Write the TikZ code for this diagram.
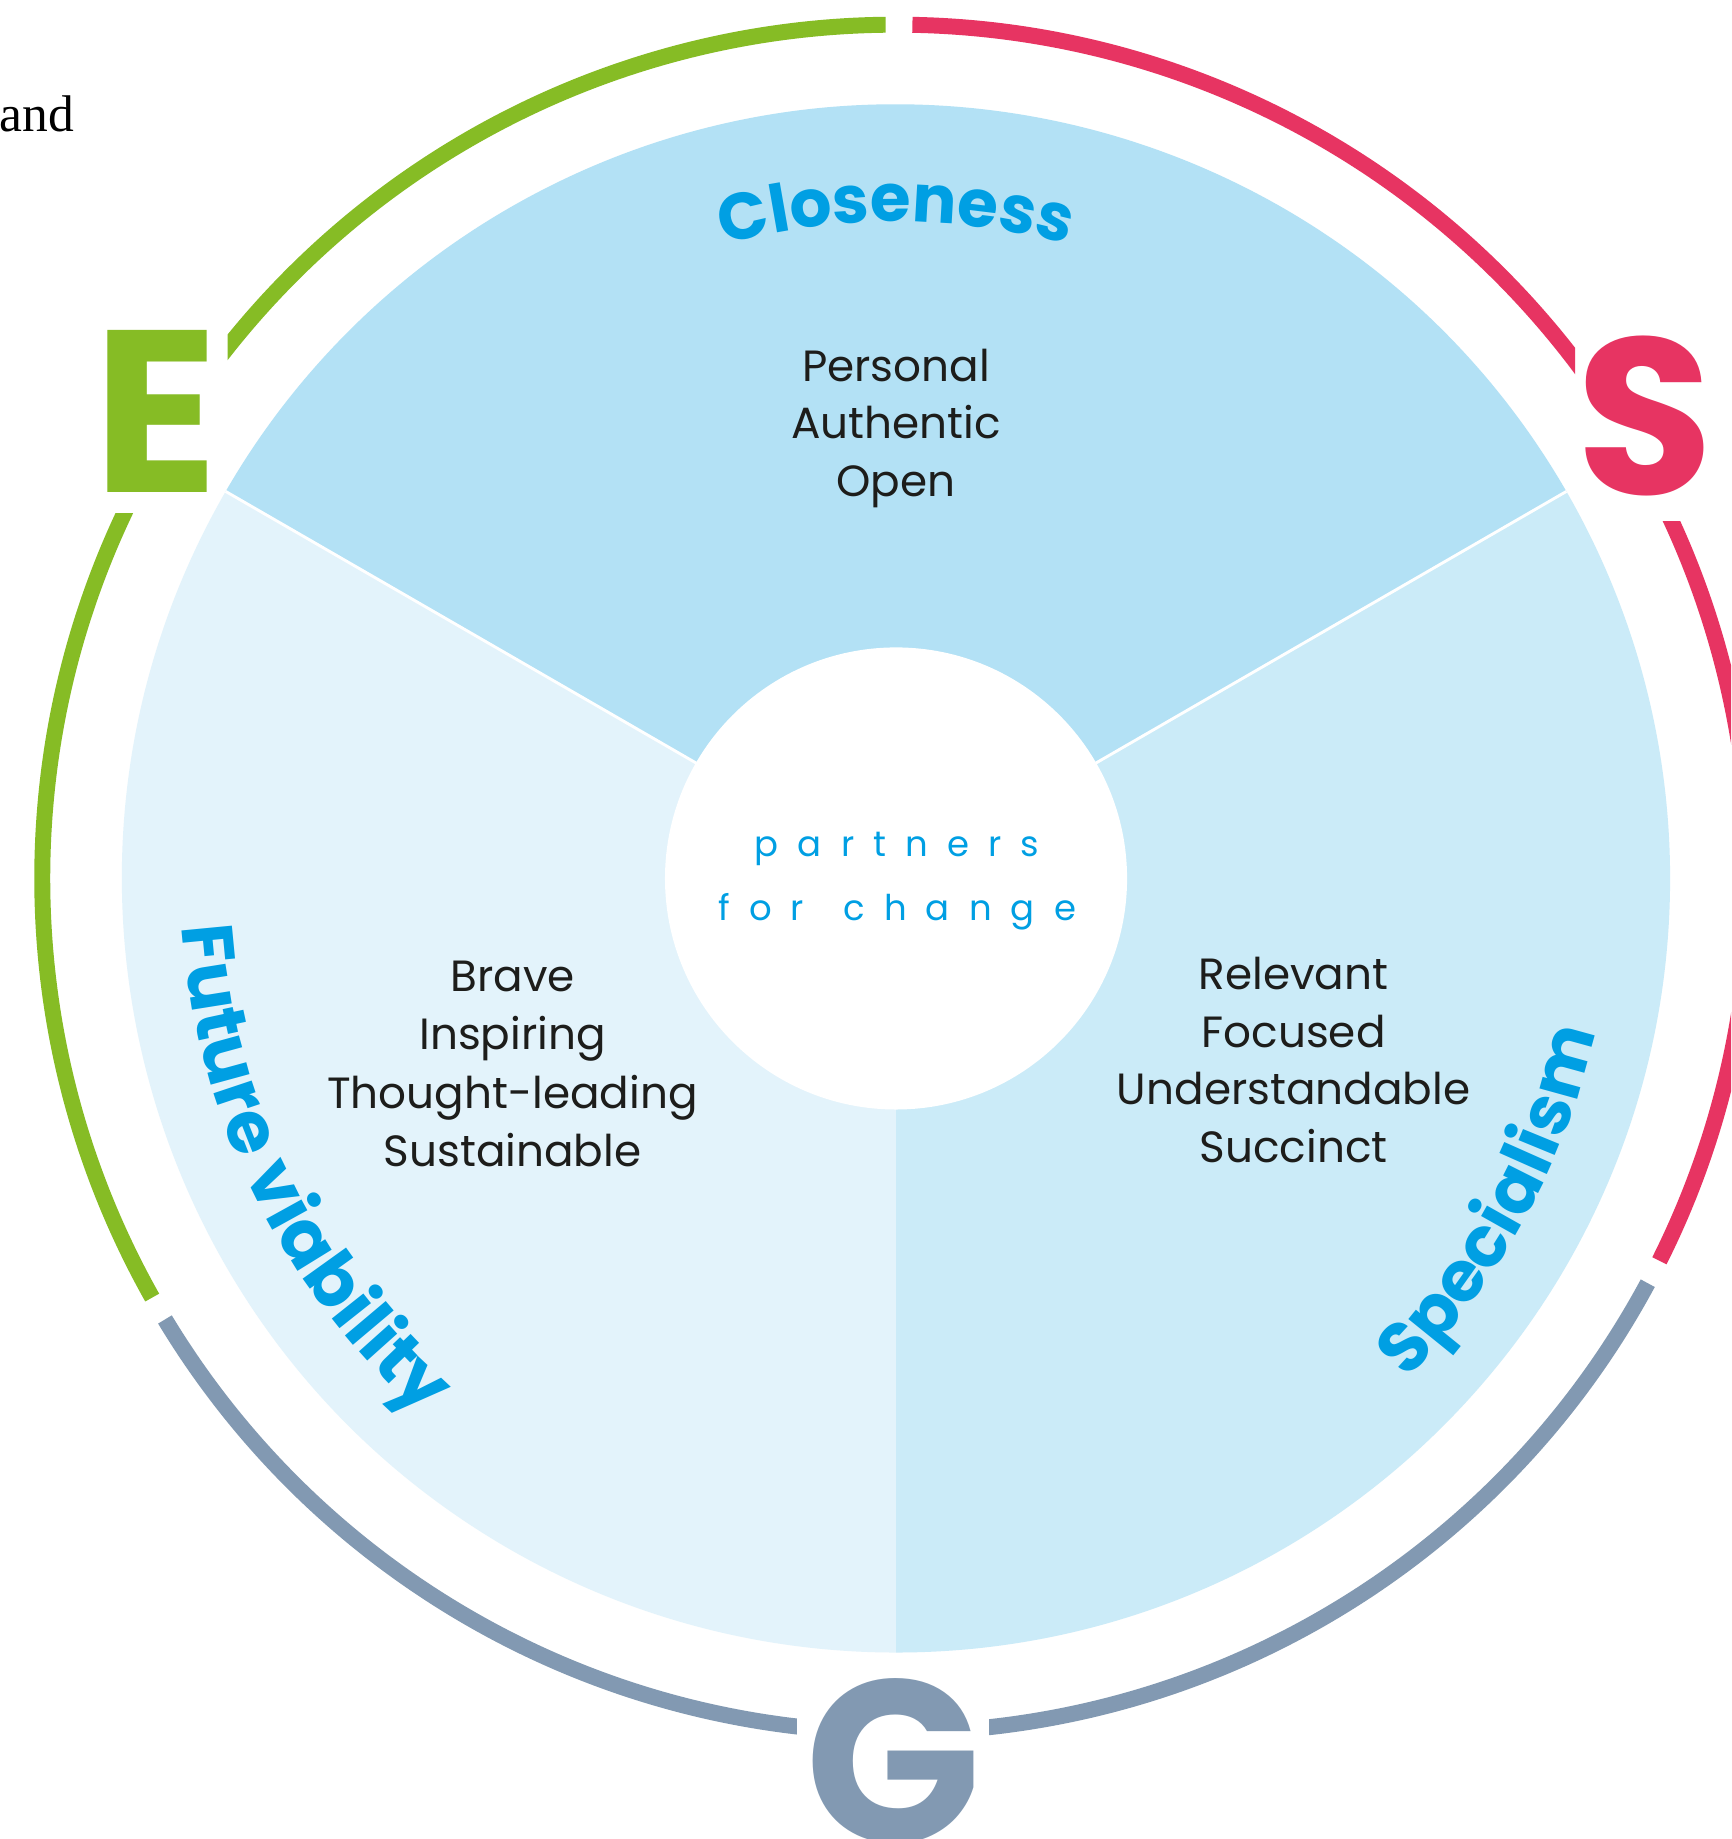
\documentclass[tikz,border=0pt]{standalone}
\usepackage{fontspec}
\setmainfont{Poppins}
\newfontfamily\andfont{Liberation Serif}
\usetikzlibrary{decorations.text}
\definecolor{topsec}{HTML}{B3E1F5}
\definecolor{leftsec}{HTML}{E3F3FB}
\definecolor{rightsec}{HTML}{CBEBF8}
\definecolor{egreen}{HTML}{86BC25}
\definecolor{sred}{HTML}{E73462}
\definecolor{ggrey}{HTML}{8299B2}
\definecolor{hblue}{HTML}{009FE3}
\definecolor{txt}{HTML}{1D1D1B}
\begin{document}
\begin{tikzpicture}[x=0.01cm,y=0.01cm,
  ring/.style={line width=0.136cm, line cap=butt},
  body/.style={font=\fontsize{10.6}{13}\selectfont, text=txt, inner sep=0pt, anchor=base},
  bigletter/.style={font=\bfseries\fontsize{56}{60}\selectfont, inner sep=0pt, anchor=base},
  motto/.style={font=\addfontfeature{LetterSpace=54}\fontsize{8.6}{10}\selectfont, text=hblue, inner sep=0pt, anchor=base},
  headtext/.style 2 args={decorate, decoration={text along path, text align=center, text color=hblue,
      text={|\bfseries\fontsize{#1}{20}\selectfont|#2}}}
]
\useasboundingbox (-764,-819) rectangle (712,749);
\clip (-764,-819) rectangle (712,749);
\fill[white] (-764,-819) rectangle (712,749);
% sectors
\fill[topsec] (0,0) -- (30:660) arc[start angle=30,end angle=150,radius=660] -- cycle;
\fill[leftsec] (0,0) -- (150:660) arc[start angle=150,end angle=270,radius=660] -- cycle;
\fill[rightsec] (0,0) -- (270:660) arc[start angle=270,end angle=390,radius=660] -- cycle;
\draw[white, line width=0.7pt] (0,0) -- (30:660) (0,0) -- (150:660);
\fill[white] (0,0) circle[radius=197];
% outer ring
\begin{scope}
  \clip (-570,0) rectangle (100,800);
  \draw[ring, egreen] (90.7:728) arc[start angle=90.7, end angle=146, radius=728];
\end{scope}
\begin{scope}
  \clip (-800,311) rectangle (0,-800);
  \draw[ring, egreen] (150:728) arc[start angle=150, end angle=209.4, radius=728];
\end{scope}
\begin{scope}
  \clip (579,800) rectangle (0,0);
  \draw[ring, sred] (88.9:728) arc[start angle=88.9, end angle=33, radius=728];
\end{scope}
\begin{scope}
  \clip (0,304) rectangle (800,-800);
  \draw[ring, sred] (30:728) arc[start angle=30, end angle=-26.6, radius=728];
\end{scope}
\begin{scope}
  \clip (-84.5,-900) rectangle (-800,0);
  \draw[ring, ggrey] (211.1:728) arc[start angle=211.1, end angle=267, radius=728];
\end{scope}
\begin{scope}
  \clip (79.3,-900) rectangle (800,0);
  \draw[ring, ggrey] (273:728) arc[start angle=273, end angle=331.7, radius=728];
\end{scope}
% ESG letters
\node[bigletter, text=egreen] (E) at (-631,329) {E};
\node[bigletter, text=sred, font=\bfseries\fontsize{54}{60}\selectfont] (S) at (639,327) {S};
\node[bigletter, text=ggrey] (G) at (-2.5,-822) {G};
% curved headings
\path[headtext={16}{Closeness}] (130:560) arc[start angle=130, end angle=50, radius=560];
\path[headtext={17.5}{Future viability}] (161.3:610) arc[start angle=161.3, end angle=251.3, radius=610];
\path[headtext={17}{Specialism}] (-73.4:610) arc[start angle=-73.4, end angle=16.6, radius=610];
% body texts
\node[body] (t1) at (0,424) {Personal};
\node[body] (t2) at (0,375) {Authentic};
\node[body] (t3) at (0,326) {Open};
\node[body] (l1) at (-327,-96) {Brave};
\node[body] (l2) at (-327,-146) {Inspiring};
\node[body] (l3) at (-327,-196) {Thought-leading};
\node[body] (l4) at (-327,-246) {Sustainable};
\node[body] (r1) at (339,-95) {Relevant};
\node[body] (r2) at (339,-144) {Focused};
\node[body] (r3) at (339,-193) {Understandable};
\node[body] (r4) at (339,-242) {Succinct};
% centre motto
\node[motto] (m1) at (1,19) {partners};
\node[motto] (m2) at (1,-36) {for \hspace{0.3em}change};
% stray text from page
\node[font=\andfont\fontsize{12.5}{15}\selectfont, text=black, inner sep=0pt, anchor=base east] (andtxt) at (-700,637) {and};
\end{tikzpicture}
\end{document}
